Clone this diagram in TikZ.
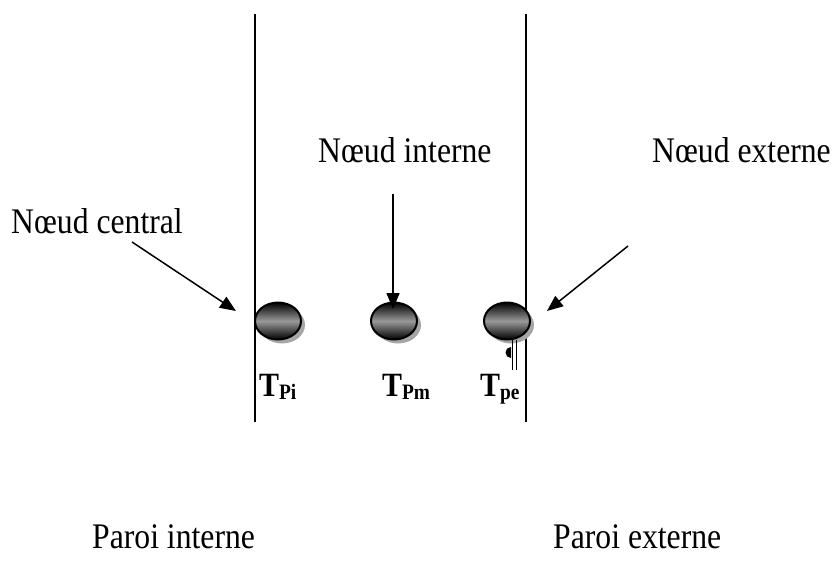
\documentclass[tikz,border=0pt]{standalone}
\usepackage{fontspec}
\setmainfont{Liberation Serif}
\usetikzlibrary{arrows.meta,shapes.geometric}
\newcommand{\narrow}[1]{\scalebox{0.88}[1]{#1}}
\newcommand{\tsub}[1]{\raisebox{-3.5pt}{\fontsize{22}{26}\selectfont #1}}
\begin{document}
\begin{tikzpicture}[x=1pt,y=-1pt,
  lbl/.style={font=\fontsize{36}{42}\selectfont, inner sep=0pt},
  tlbl/.style={font=\fontsize{34}{40}\selectfont\bfseries, inner sep=0pt},
  wall/.style={line width=1.5pt},
  arr/.style={line width=1.5pt, -{Triangle[length=16pt,width=13pt]}},
  shadow/.style={fill=black!35},
  ball/.style={ellipse, minimum width=46pt, minimum height=37pt, inner sep=0pt, draw=black, line width=2pt,
    top color=black, bottom color=black, middle color=black!40}]
\useasboundingbox (0,0) rectangle (833,573);
% walls
\coordinate (w1t) at (255,14); \coordinate (w1b) at (255,422);
\coordinate (w2t) at (526,14); \coordinate (w2b) at (526,422);
\draw[wall] (w1t) -- (w1b);
\draw[wall] (w2t) -- (w2b);
% shadows
\fill[shadow] (282,325) ellipse [x radius=23pt, y radius=18.5pt];
\fill[shadow] (398,325) ellipse [x radius=23pt, y radius=18.5pt];
\fill[shadow] (511,325) ellipse [x radius=23pt, y radius=18.5pt];
% balls
\node[ball] (pi) at (278,321) {};
\node[ball] (pm) at (394,321) {};
\node[ball] (pe) at (507,321) {};
% pilcrow mark
\fill (511,347) arc[start angle=90, end angle=270, radius=5.5pt] -- cycle;
\draw[line width=1pt] (512,340) -- (512,370);
\draw[line width=1pt] (516,340) -- (516,370);
% labels
\node[lbl, anchor=base west] (lc) at (11,233) {\narrow{Nœud central}};
\node[lbl, anchor=base west] (li) at (318,162) {\narrow{Nœud interne}};
\node[lbl, anchor=base west] (le) at (652,162) {\narrow{Nœud externe}};
\node[lbl, anchor=base west] (pin) at (92,548) {\narrow{Paroi interne}};
\node[lbl, anchor=base west] (pex) at (553,548) {\narrow{Paroi externe}};
% temperatures
\node[tlbl, anchor=base west] (tpi) at (259,396) {\narrow{T\tsub{Pi}}};
\node[tlbl, anchor=base west] (tpm) at (382,396) {\narrow{T\tsub{Pm}}};
\node[tlbl, anchor=base west] (tpe) at (480,396) {\narrow{T\tsub{pe}}};
% arrows
\coordinate (a1) at (132,242);
\coordinate (a2) at (393,194);
\coordinate (a3) at (628,246);
\coordinate (e1) at (236,311);
\coordinate (e2) at (393,309);
\coordinate (e3) at (547,311);
\draw[arr] (a1) -- (e1);
\draw[arr] (a2) -- (e2);
\draw[arr] (a3) -- (e3);
\end{tikzpicture}
\end{document}
